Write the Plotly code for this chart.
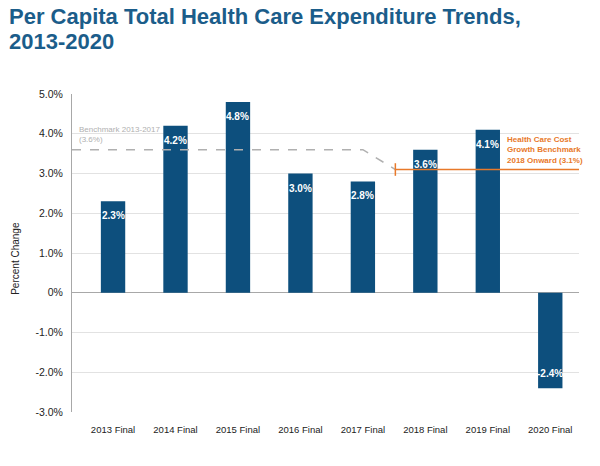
import plotly.graph_objects as go

categories = ["2013 Final", "2014 Final", "2015 Final", "2016 Final",
              "2017 Final", "2018 Final", "2019 Final", "2020 Final"]
values = [2.3, 4.2, 4.8, 3.0, 2.8, 3.6, 4.1, -2.4]
benchmark_old = 3.6
benchmark_new = 3.1
y_ticks = [5, 4, 3, 2, 1, 0, -1, -2, -3]
y_ticktext = ["5.0%", "4.0%", "3.0%", "2.0%", "1.0%", "0%", "-1.0%", "-2.0%", "-3.0%"]
title_lines = ["Per Capita Total Health Care Expenditure Trends,", "2013-2020"]

BAR = "#0d4f7d"
ORANGE = "#e8792a"
GRAY = "#b0b0b0"
FONT = "Liberation Sans"

xs = list(range(len(categories)))
x_lo, x_hi = -0.657, 7.46
x_break = 4.52

fig = go.Figure()
fig.add_trace(go.Bar(x=xs, y=values, width=0.39, marker_color=BAR,
                     marker_line_width=0, hoverinfo="skip"))

# old benchmark (dashed gray)
fig.add_trace(go.Scatter(x=[x_lo, 4, x_break], y=[benchmark_old, benchmark_old, benchmark_new],
                         mode="lines", line=dict(color=GRAY, width=1.5, dash="dash"),
                         hoverinfo="skip", cliponaxis=False))
# new benchmark (orange)
fig.add_trace(go.Scatter(x=[x_break, x_hi], y=[benchmark_new, benchmark_new],
                         mode="lines", line=dict(color=ORANGE, width=1.5),
                         hoverinfo="skip", cliponaxis=False))
fig.add_trace(go.Scatter(x=[x_break], y=[benchmark_new], mode="markers",
                         marker=dict(symbol="line-ns-open", size=9, color=ORANGE,
                                     line=dict(color=ORANGE, width=1.5)),
                         hoverinfo="skip"))

annotations = []
for x, v in zip(xs, values):
    annotations.append(dict(
        x=x, y=v, text=f"<b>{v:.1f}%</b>", showarrow=False,
        yanchor="top" if v >= 0 else "bottom", yshift=-7 if v >= 0 else 7,
        font=dict(family=FONT, size=10, color="white")))

annotations.append(dict(
    x=x_lo, y=benchmark_old, xref="x", yref="y", xanchor="left", yanchor="bottom",
    xshift=5, yshift=4, align="left", showarrow=False,
    text="Benchmark 2013-2017<br>(3.6%)",
    font=dict(family=FONT, size=8, color=GRAY)))
annotations.append(dict(
    x=6.28, y=benchmark_new, xref="x", yref="y", xanchor="left", yanchor="bottom",
    yshift=3, align="left", showarrow=False,
    text="<b>Health Care Cost<br>Growth Benchmark<br>2018 Onward (3.1%)</b>",
    font=dict(family=FONT, size=8, color=ORANGE)))

annotations.append(dict(
    xref="paper", yref="paper", x=-0.113, y=0.484, xanchor="center", yanchor="middle",
    text="Percent Change", textangle=-90, showarrow=False,
    font=dict(family=FONT, size=10, color="#222222")))

# title lines as paper annotations
for line, shift in zip(title_lines, [78, 53]):
    annotations.append(dict(
        xref="paper", yref="paper", x=0, y=1, xshift=-65, yshift=shift,
        xanchor="left", yanchor="middle", align="left", showarrow=False,
        text=f"<b>{line}</b>",
        font=dict(family=FONT, size=22, color="#1b5d8a")))

fig.update_layout(
    width=600, height=466,
    margin=dict(l=72, r=21, t=94, b=54),
    paper_bgcolor="white", plot_bgcolor="white",
    showlegend=False,
    annotations=annotations,
    font=dict(family=FONT),
)
fig.update_xaxes(range=[x_lo, x_hi], tickvals=xs, ticktext=categories,
                 showgrid=False, zeroline=False, showline=False, ticks="",
                 ticklabelstandoff=10,
                 tickfont=dict(family=FONT, size=9.5, color="#222222"))
fig.update_yaxes(range=[-3, 5], tickvals=y_ticks, ticktext=y_ticktext,
                 showgrid=True, gridcolor="#e2e2e2", gridwidth=1,
                 zeroline=True, zerolinecolor="#a8a8a8", zerolinewidth=1,
                 showline=True, linecolor="#a8a8a8", linewidth=1, ticks="",
                 ticklabelstandoff=6,
                 tickfont=dict(family=FONT, size=10.5, color="#222222"))

fig.write_html("out.html", config={"displayModeBar": False},
               post_script="document.body.style.margin='0';")
